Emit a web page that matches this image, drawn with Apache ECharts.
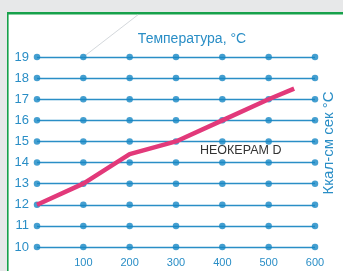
<!DOCTYPE html>
<html><head><meta charset="utf-8">
<script src="https://cdn.jsdelivr.net/npm/echarts@6/dist/echarts.min.js"></script>
<style>html,body{margin:0;padding:0;background:#fff}#c{width:343px;height:271px}</style>
</head><body><div id="c"></div>
<script>
var xTicks = [0, 100, 200, 300, 400, 500, 600];
var yTicks = [10, 11, 12, 13, 14, 15, 16, 17, 18, 19];
var tempX = [0, 100, 200, 300, 400, 500, 555];
var conductivity = [12, 13, 14.4, 15, 16, 17, 17.5];
var guideLine = [[100, 19], [218, 21]];
var seriesLabel = 'НЕОКЕРАМ D';

var dots = [];
xTicks.forEach(function(x){ yTicks.forEach(function(y){ dots.push([x, y]); }); });
var lineData = tempX.map(function(x, i){ return [x, conductivity[i]]; });

var blue = '#2a8ec6';
var chart = echarts.init(document.getElementById('c'));
chart.setOption({
  animation: false,
  backgroundColor: '#fff',
  grid: {left: 37, right: 28, top: 57, bottom: 24},
  title: {
    text: 'Температура, °C', left: 187, top: 27, textAlign: 'center',
    textStyle: {color: blue, fontSize: 14, fontWeight: 'normal', fontFamily: 'Liberation Sans'}
  },
  graphic: [
    {type: 'rect', shape: {x: 0, y: 0, width: 343, height: 12}, style: {fill: '#e7e8e9'}, z: -10},
    {type: 'rect', shape: {x: 0, y: 0, width: 7, height: 271}, style: {fill: '#e7e8e9'}, z: -10},
    {type: 'rect', shape: {x: 7, y: 12, width: 336, height: 2.5}, style: {fill: '#17a14b'}, z: -9},
    {type: 'rect', shape: {x: 7, y: 12, width: 1.6, height: 259}, style: {fill: '#17a14b'}, z: -9},
    {type: 'text', left: 200, top: 144, style: {text: seriesLabel, fill: '#333', fontSize: 12.5, fontFamily: 'Liberation Sans'}},
    {type: 'text', x: 329, y: 143, rotation: Math.PI / 2, style: {text: 'Ккал-см сек °С', fill: blue, fontSize: 15, fontFamily: 'Liberation Sans', align: 'center', verticalAlign: 'middle'}}
  ],
  xAxis: {
    type: 'value', min: 0, max: 600, interval: 100,
    axisLine: {show: false}, axisTick: {show: false}, splitLine: {show: false},
    axisLabel: {color: blue, fontSize: 11, margin: 10, fontFamily: 'Liberation Sans',
      formatter: function(v){ return v === 0 ? '' : String(v); }}
  },
  yAxis: {
    type: 'value', min: 10, max: 19, interval: 1,
    axisLine: {show: false}, axisTick: {show: false},
    splitLine: {show: true, lineStyle: {color: blue, width: 1.3}},
    axisLabel: {color: blue, fontSize: 13, margin: 8, fontFamily: 'Liberation Sans'}
  },
  series: [
    {type: 'line', data: guideLine, clip: false, symbol: 'none', silent: true,
      lineStyle: {color: '#d4d8dc', width: 1}, z: 1},
    {type: 'scatter', data: dots, symbolSize: 6.5, itemStyle: {color: '#1787c4'}, z: 2},
    {type: 'line', data: lineData, symbol: 'none', lineStyle: {color: '#e2397a', width: 4.5}, z: 3}
  ]
});
</script></body></html>
